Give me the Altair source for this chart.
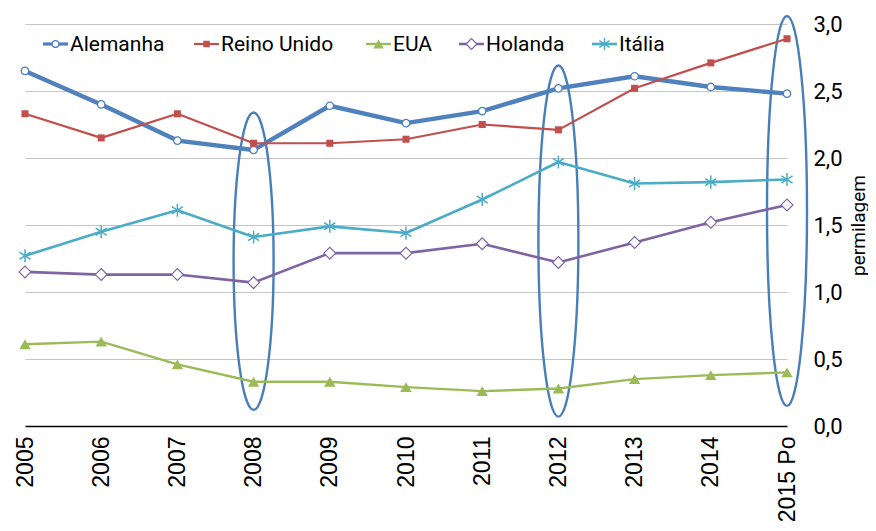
import altair as alt
import pandas as pd
import json

# ---------------- data ----------------
YEARS = ["2005", "2006", "2007", "2008", "2009", "2010", "2011", "2012", "2013", "2014", "2015 Po"]
SERIES = ["Alemanha", "Reino Unido", "EUA", "Holanda", "Itália"]
ALEMANHA = [2.65, 2.40, 2.13, 2.06, 2.39, 2.26, 2.35, 2.52, 2.61, 2.53, 2.48]
REINO_UNIDO = [2.33, 2.15, 2.33, 2.11, 2.11, 2.14, 2.25, 2.21, 2.52, 2.71, 2.89]
EUA = [0.61, 0.63, 0.46, 0.33, 0.33, 0.29, 0.26, 0.28, 0.35, 0.38, 0.40]
HOLANDA = [1.15, 1.13, 1.13, 1.07, 1.29, 1.29, 1.36, 1.22, 1.37, 1.52, 1.65]
ITALIA = [1.27, 1.45, 1.61, 1.41, 1.49, 1.44, 1.69, 1.97, 1.81, 1.82, 1.84]
Y_TICKS = [0.0, 0.5, 1.0, 1.5, 2.0, 2.5, 3.0]

# highlighted years (ellipses): vertical span in data units
HL_YEARS = ["2008", "2012", "2015 Po"]
HL_LOW = [0.12, 0.07, 0.15]
HL_HIGH = [2.34, 2.69, 3.06]

# ---------------- layout / style ----------------
W, H = 762, 402
PX_PER_UNIT = H / 3.0
FONT = "Roboto"
XFONT = "Liberation Sans"
COLORS = ["#4f81bd", "#c0504d", "#9bbb59", "#8064a2", "#4bacc6"]
LINE_W = [4.4, 2.2, 2.4, 2.6, 2.6]
ASTERISK = "M0,-1L0,1M-0.85,-0.55L0.85,0.55M-0.85,0.55L0.85,-0.55"
MARKERS = [
    dict(shape="circle", size=55, filled=True, fill="white", strokeWidth=1.3),
    dict(shape="square", size=50, filled=True, strokeWidth=0),
    dict(shape="triangle-up", size=130, filled=True, strokeWidth=0),
    dict(shape="diamond", size=140, filled=True, fill="white", strokeWidth=1.2),
    dict(shape=ASTERISK, size=170, filled=False, strokeWidth=1.5),
]
LEGEND_X = [43, 194, 366, 459, 592]
LEGEND_Y = 44
LEGEND_LINE = 25

label_expr = json.dumps(YEARS) + "[datum.value]"

X = alt.X(
    "idx:Q",
    scale=alt.Scale(domain=[0, len(YEARS) - 1], nice=False, zero=False),
    axis=alt.Axis(
        values=list(range(len(YEARS))),
        labelExpr=label_expr,
        labelAngle=270,
        labelAlign="right",
        labelBaseline="middle",
        labelFont=XFONT,
        labelFontSize=23,
        labelColor="#000000",
        labelPadding=10,
        labelOverlap=False,
        grid=False,
        ticks=False,
        domain=True,
        domainColor="#000000",
        domainWidth=1.3,
        title=None,
        zindex=2,
    ),
)
Y = alt.Y(
    "value:Q",
    scale=alt.Scale(domain=[0, 3], nice=False, zero=True),
    axis=alt.Axis(
        orient="right",
        values=Y_TICKS,
        labelExpr="replace(format(datum.value, '.1f'), '.', ',')",
        labelFont=FONT,
        labelFontSize=22,
        labelColor="#000000",
        labelPadding=26,
        labelAlign="left",
        grid=True,
        gridColor="#c4c4c4",
        gridWidth=1.2,
        ticks=False,
        domain=False,
        title="permilagem",
        titleFont=FONT,
        titleFontSize=19,
        titleFontWeight="normal",
        titleColor="#000000",
        titleAngle=270,
        titleAlign="center",
        titleBaseline="top",
        titleX=62,
        titleY=H / 2,
        zindex=0,
    ),
)

values_by_series = [ALEMANHA, REINO_UNIDO, EUA, HOLANDA, ITALIA]
layers = []

# highlight ellipses
for yr, lo, hi in zip(HL_YEARS, HL_LOW, HL_HIGH):
    h = (hi - lo) * PX_PER_UNIT
    a = 20.0 / (h / 2.0)
    k = 0.5523
    path = (
        f"M0,-1 C{k*a:.4f},-1 {a:.4f},{-k:.4f} {a:.4f},0 "
        f"C{a:.4f},{k:.4f} {k*a:.4f},1 0,1 "
        f"C{-k*a:.4f},1 {-a:.4f},{k:.4f} {-a:.4f},0 "
        f"C{-a:.4f},{-k:.4f} {-k*a:.4f},-1 0,-1 Z"
    )
    d = pd.DataFrame({"idx": [YEARS.index(yr)], "value": [(lo + hi) / 2.0]})
    layers.append(
        alt.Chart(d).mark_point(
            shape=path, size=h * h, filled=False, stroke="#4a7ebb",
            strokeWidth=2.4, opacity=1
        ).encode(x=X, y=Y)
    )

# series lines and markers
for name, vals, col, lw, mk in zip(SERIES, values_by_series, COLORS, LINE_W, MARKERS):
    d = pd.DataFrame({"idx": list(range(len(YEARS))), "year": YEARS, "value": vals, "serie": name})
    base = alt.Chart(d).encode(x=X, y=Y)
    layers.append(base.mark_line(color=col, strokeWidth=lw, strokeJoin="round"))
    pm = dict(mk)
    if pm.get("filled"):
        pm.setdefault("fill", col)
    pm["stroke"] = col
    layers.append(base.mark_point(opacity=1, **pm))

# legend (manual, Excel style)
for name, col, lw, mk, lx in zip(SERIES, COLORS, LINE_W, MARKERS, LEGEND_X):
    d = pd.DataFrame({"serie": [name]})
    lb = alt.Chart(d)
    layers.append(
        lb.mark_rule(color=col, strokeWidth=min(lw, 3.2)).encode(
            x=alt.value(lx - 25), x2=alt.value(lx - 25 + LEGEND_LINE), y=alt.value(LEGEND_Y - 24)
        )
    )
    pm = dict(mk)
    if pm.get("filled"):
        pm.setdefault("fill", col)
    pm["stroke"] = col
    pm["size"] = pm["size"] * 0.85
    layers.append(
        lb.mark_point(opacity=1, **pm).encode(
            x=alt.value(lx - 25 + LEGEND_LINE / 2), y=alt.value(LEGEND_Y - 24)
        )
    )
    layers.append(
        lb.mark_text(align="left", baseline="middle", font=FONT, fontSize=21, color="#000000").encode(
            x=alt.value(lx - 25 + LEGEND_LINE + 2), y=alt.value(LEGEND_Y - 24 + 1), text="serie:N"
        )
    )

chart = (
    alt.layer(*layers)
    .properties(
        width=W,
        height=H,
        autosize=alt.AutoSizeParams(type="none"),
        padding={"left": 17, "top": 16, "right": 81, "bottom": 97},
        background="white",
    )
    .configure_view(stroke=None)
)

chart.save("out.html", embed_options={"renderer": "svg", "actions": False})
